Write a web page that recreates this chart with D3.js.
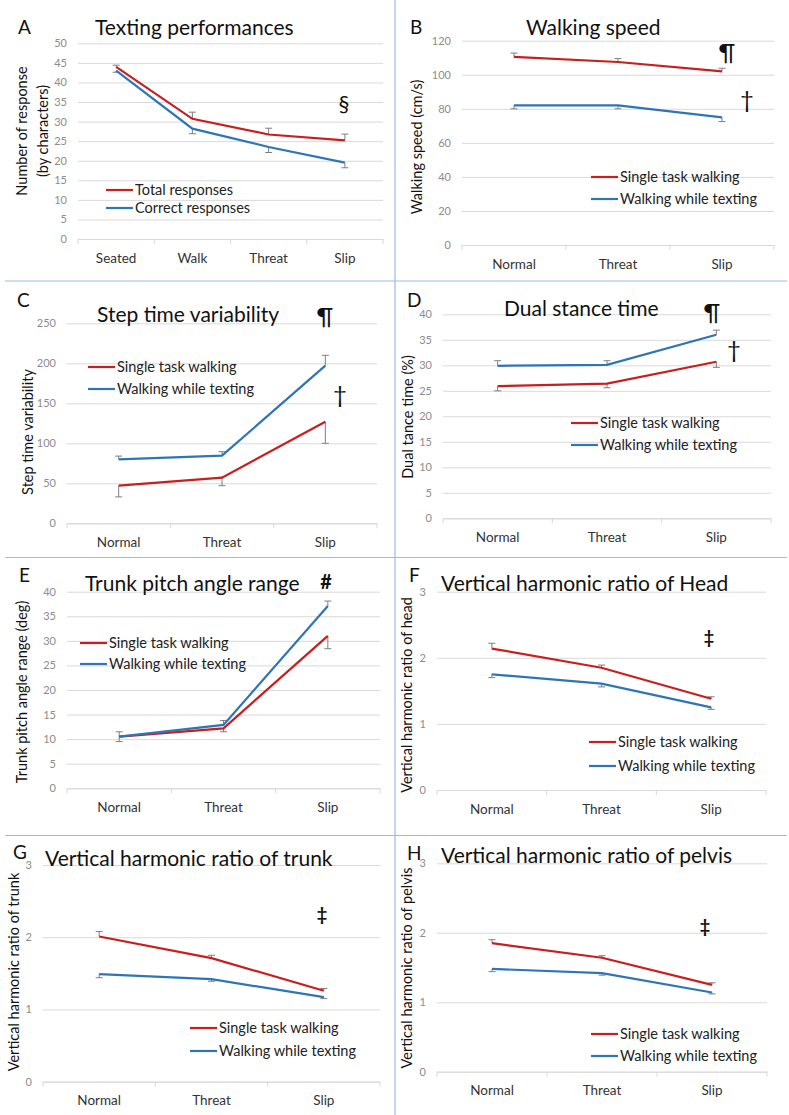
<!DOCTYPE html>
<html>
<head>
<meta charset="utf-8">
<script src="https://cdn.jsdelivr.net/npm/d3@7"></script>
<style>
  body { margin: 0; background: #fff; }
  text { font-family: Lato, "Open Sans", sans-serif; }
</style>
</head>
<body>
<svg id="fig" width="789" height="1115"></svg>
<script>
// categories
var textingConds = ["Seated", "Walk", "Threat", "Slip"];
var walkConds = ["Normal", "Threat", "Slip"];
var seriesNames = ["Single task walking", "Walking while texting"];

// A - texting performances
var totalResp = [44, 30.7, 26.7, 25.2];
var totalRespErr = [0.4, 1.7, 1.6, 1.6];
var correctResp = [43, 28.2, 23.5, 19.5];
var correctRespErr = [0.4, 1.3, 1.4, 1.3];

// B - walking speed (cm/s)
var speedSingle = [110.5, 107.5, 102];
var speedSingleErr = [2.2, 2, 1.8];
var speedTexting = [82, 82, 75];
var speedTextingErr = [2, 2, 2.5];

// C - step time variability
var stepVarSingle = [47, 57, 127];
var stepVarSingleErr = [14, 10, 27];
var stepVarTexting = [80, 84.5, 197];
var stepVarTextingErr = [4, 5, 13];

// D - dual stance time (%)
var dualSingle = [25.9, 26.4, 30.7];
var dualSingleErr = [0.9, 0.8, 1.1];
var dualTexting = [29.9, 30.1, 36];
var dualTextingErr = [1, 0.8, 0.9];

// E - trunk pitch angle range (deg)
var pitchSingle = [10.5, 12.2, 31];
var pitchSingleErr = [1, 0.7, 2.6];
var pitchTexting = [10.5, 12.9, 37.1];
var pitchTextingErr = [1, 0.9, 1];

// F - harmonic ratio head
var hrHeadSingle = [2.14, 1.85, 1.38];
var hrHeadSingleErr = [0.08, 0.04, 0.03];
var hrHeadTexting = [1.75, 1.61, 1.25];
var hrHeadTextingErr = [0.05, 0.05, 0.03];

// G - harmonic ratio trunk
var hrTrunkSingle = [2.01, 1.71, 1.26];
var hrTrunkSingleErr = [0.07, 0.04, 0.03];
var hrTrunkTexting = [1.49, 1.42, 1.17];
var hrTrunkTextingErr = [0.05, 0.03, 0.02];

// H - harmonic ratio pelvis
var hrPelvisSingle = [1.85, 1.64, 1.25];
var hrPelvisSingleErr = [0.05, 0.03, 0.03];
var hrPelvisTexting = [1.48, 1.42, 1.14];
var hrPelvisTextingErr = [0.04, 0.03, 0.02];

var RED = "#c81e1e", BLUE = "#2e75b6";

var panels = [
  {letter: "A", lx: 18, ly: 27, title: "Texting performances", tx: 95, ty: 27,
   cats: textingConds, x0: 78, x1: 383, y0: 239, yTop: 43.3, yMax: 50, step: 5,
   ylab: ["Number of response", "(by characters)"], ylx: [22, 43], yly: 131,
   series: [
     {name: "Total responses", vals: totalResp, err: totalRespErr, dir: 1, color: RED},
     {name: "Correct responses", vals: correctResp, err: correctRespErr, dir: -1, color: BLUE}],
   legX: 106, legY: 190, legGap: 18,
   marks: [{s: "\u00a7", x: 344, y: 103, size: 22}]},
  {letter: "B", lx: 410, ly: 27, title: "Walking speed", tx: 526, ty: 27,
   cats: walkConds, x0: 462, x1: 774, y0: 245, yTop: 40.7, yMax: 120, step: 20,
   ylab: ["Walking speed (cm/s)"], ylx: [417], yly: 147,
   series: [
     {name: seriesNames[0], vals: speedSingle, err: speedSingleErr, dir: 1, color: RED},
     {name: seriesNames[1], vals: speedTexting, err: speedTextingErr, dir: -1, color: BLUE}],
   legX: 591, legY: 177, legGap: 22,
   marks: [{s: "\u00b6", x: 727, y: 53, size: 24}, {s: "\u2020", x: 747, y: 100, size: 24}]},
  {letter: "C", lx: 17, ly: 300, title: "Step time variability", tx: 97, ty: 314,
   cats: walkConds, x0: 67, x1: 377, y0: 523.3, yTop: 323.3, yMax: 250, step: 50,
   ylab: ["Step  time variability"], ylx: [28], yly: 432,
   series: [
     {name: seriesNames[0], vals: stepVarSingle, err: stepVarSingleErr, dir: -1, color: RED},
     {name: seriesNames[1], vals: stepVarTexting, err: stepVarTextingErr, dir: 1, color: BLUE}],
   legX: 88, legY: 367, legGap: 22,
   marks: [{s: "\u00b6", x: 325, y: 317, size: 24}, {s: "\u2020", x: 340, y: 395, size: 24}]},
  {letter: "D", lx: 407, ly: 300, title: "Dual stance time", tx: 504, ty: 308,
   cats: walkConds, x0: 443, x1: 771, y0: 518.3, yTop: 314.3, yMax: 40, step: 5,
   ylab: ["Dual tance time (%)"], ylx: [408], yly: 417,
   series: [
     {name: seriesNames[0], vals: dualSingle, err: dualSingleErr, dir: -1, color: RED},
     {name: seriesNames[1], vals: dualTexting, err: dualTextingErr, dir: 1, color: BLUE}],
   legX: 571, legY: 423, legGap: 22,
   marks: [{s: "\u00b6", x: 712, y: 313, size: 24}, {s: "\u2020", x: 734, y: 350, size: 24}]},
  {letter: "E", lx: 19, ly: 575, title: "Trunk pitch angle range", tx: 85, ty: 583,
   cats: walkConds, x0: 67, x1: 380, y0: 788.3, yTop: 591.7, yMax: 40, step: 5,
   ylab: ["Trunk pitch angle range (deg)"], ylx: [22], yly: 692,
   series: [
     {name: seriesNames[0], vals: pitchSingle, err: pitchSingleErr, dir: -1, color: RED},
     {name: seriesNames[1], vals: pitchTexting, err: pitchTextingErr, dir: 1, color: BLUE}],
   legX: 80, legY: 643, legGap: 21,
   marks: [{s: "#", x: 326, y: 582, size: 20, bold: true}]},
  {letter: "F", lx: 409, ly: 575, title: "Vertical harmonic ratio of Head", tx: 441, ty: 583,
   cats: walkConds, x0: 437, x1: 766, y0: 790, yTop: 591.7, yMax: 3, step: 1,
   ylab: ["Vertical harmonic  ratio of head"], ylx: [407], yly: 695,
   series: [
     {name: seriesNames[0], vals: hrHeadSingle, err: hrHeadSingleErr, dir: 1, color: RED},
     {name: seriesNames[1], vals: hrHeadTexting, err: hrHeadTextingErr, dir: -1, color: BLUE}],
   legX: 589, legY: 742, legGap: 24,
   marks: [{s: "\u2021", x: 709, y: 638, size: 18, bold: true}]},
  {letter: "G", lx: 13, ly: 852, title: "Vertical harmonic ratio of trunk", tx: 45, ty: 858,
   cats: walkConds, x0: 43, x1: 380, y0: 1081.7, yTop: 865, yMax: 3, step: 1,
   ylab: ["Vertical harmonic  ratio of trunk"], ylx: [14], yly: 972,
   series: [
     {name: seriesNames[0], vals: hrTrunkSingle, err: hrTrunkSingleErr, dir: 1, color: RED},
     {name: seriesNames[1], vals: hrTrunkTexting, err: hrTrunkTextingErr, dir: -1, color: BLUE}],
   legX: 190, legY: 1028, legGap: 23,
   marks: [{s: "\u2021", x: 322, y: 915, size: 18, bold: true}]},
  {letter: "H", lx: 407, ly: 853, title: "Vertical harmonic ratio of pelvis", tx: 441, ty: 855,
   cats: walkConds, x0: 437, x1: 767, y0: 1071.7, yTop: 863.3, yMax: 3, step: 1,
   ylab: ["Vertical harmonic  ratio of pelvis"], ylx: [407], yly: 968,
   series: [
     {name: seriesNames[0], vals: hrPelvisSingle, err: hrPelvisSingleErr, dir: 1, color: RED},
     {name: seriesNames[1], vals: hrPelvisTexting, err: hrPelvisTextingErr, dir: -1, color: BLUE}],
   legX: 591, legY: 1034, legGap: 22,
   marks: [{s: "\u2021", x: 705, y: 927, size: 18, bold: true}]}
];

var svg = d3.select("#fig");

// panel dividers
var DIV = "#9dbbdf";
svg.append("line").attr("x1", 395).attr("x2", 395).attr("y1", 0).attr("y2", 1115)
  .attr("stroke", DIV).attr("stroke-width", 1.2);
[281, 557.5, 835.5].forEach(function(yy) {
  svg.append("line").attr("x1", 5).attr("x2", 787).attr("y1", yy).attr("y2", yy)
    .attr("stroke", DIV).attr("stroke-width", 1.2);
});

function drawPanel(p) {
  var g = svg.append("g");
  var x = d3.scaleBand().domain(p.cats).range([p.x0, p.x1]);
  var y = d3.scaleLinear().domain([0, p.yMax]).range([p.y0, p.yTop]);
  var cx = function(i) { return x(p.cats[i]) + x.bandwidth() / 2; };

  // gridlines + y labels
  g.append("g").attr("transform", "translate(" + p.x0 + ",0)")
    .call(d3.axisLeft(y).tickValues(d3.range(0, p.yMax + p.step / 2, p.step))
      .tickFormat(d3.format("~g"))
      .tickSize(-(p.x1 - p.x0)).tickPadding(11))
    .call(function(a) { a.select(".domain").remove(); })
    .call(function(a) { a.selectAll("line").attr("stroke", "#d9d9d9"); })
    .call(function(a) {
      a.selectAll("text").attr("fill", "#8c8c8c").style("font-size", "11px")
        .style("font-family", "Lato, sans-serif");
    });

  // x axis
  var xa = g.append("g").attr("transform", "translate(0," + p.y0 + ")")
    .call(d3.axisBottom(x).tickSize(0).tickSizeOuter(0).tickPadding(14));
  xa.select(".domain").attr("stroke", "#d9d9d9");
  xa.selectAll("text").attr("fill", "#333").style("font-size", "13.5px")
    .style("font-family", "Lato, sans-serif");
  g.selectAll(null).data(d3.range(p.cats.length + 1)).enter().append("line")
    .attr("x1", function(i) { return p.x0 + i * x.step(); })
    .attr("x2", function(i) { return p.x0 + i * x.step(); })
    .attr("y1", p.y0).attr("y2", p.y0 + 5)
    .attr("stroke", "#d9d9d9");

  // error bars
  p.series.forEach(function(s) {
    var eb = g.append("g").attr("stroke", "#7f7f7f").attr("stroke-width", 1);
    s.vals.forEach(function(v, i) {
      var yEnd = y(v + s.dir * s.err[i]);
      eb.append("line").attr("x1", cx(i)).attr("x2", cx(i)).attr("y1", y(v)).attr("y2", yEnd);
      eb.append("line").attr("x1", cx(i) - 3.5).attr("x2", cx(i) + 3.5).attr("y1", yEnd).attr("y2", yEnd);
    });
  });

  // series lines
  var line = d3.line().x(function(d, i) { return cx(i); }).y(function(d) { return y(d); });
  p.series.forEach(function(s) {
    g.append("path").datum(s.vals).attr("d", line)
      .attr("fill", "none").attr("stroke", s.color).attr("stroke-width", 2.2);
  });

  // legend
  p.series.forEach(function(s, k) {
    var ly = p.legY + k * p.legGap;
    g.append("line").attr("x1", p.legX).attr("x2", p.legX + 27).attr("y1", ly).attr("y2", ly)
      .attr("stroke", s.color).attr("stroke-width", 2.2);
    g.append("text").attr("x", p.legX + 29).attr("y", ly).attr("dy", "0.35em")
      .style("font-size", "14.5px").attr("fill", "#222").text(s.name);
  });

  // titles
  g.append("text").attr("x", p.lx).attr("y", p.ly).attr("dy", "0.36em")
    .style("font-size", "19px").attr("fill", "#111").text(p.letter);
  g.append("text").attr("x", p.tx).attr("y", p.ty).attr("dy", "0.36em")
    .style("font-size", "21px").attr("fill", "#111").text(p.title);

  // y-axis title
  p.ylab.forEach(function(t, k) {
    g.append("text").attr("transform", "translate(" + p.ylx[k] + "," + p.yly + ") rotate(-90)")
      .attr("text-anchor", "middle").attr("dy", "0.35em")
      .style("font-size", "14.5px").attr("fill", "#111").text(t);
  });

  // significance marks
  p.marks.forEach(function(m) {
    g.append("text").attr("x", m.x).attr("y", m.y).attr("dy", "0.35em")
      .attr("text-anchor", "middle").style("font-size", m.size + "px")
      .style("font-weight", m.bold ? "bold" : "normal").attr("fill", "#111").text(m.s);
  });
}

panels.forEach(drawPanel);
</script>
</body>
</html>
